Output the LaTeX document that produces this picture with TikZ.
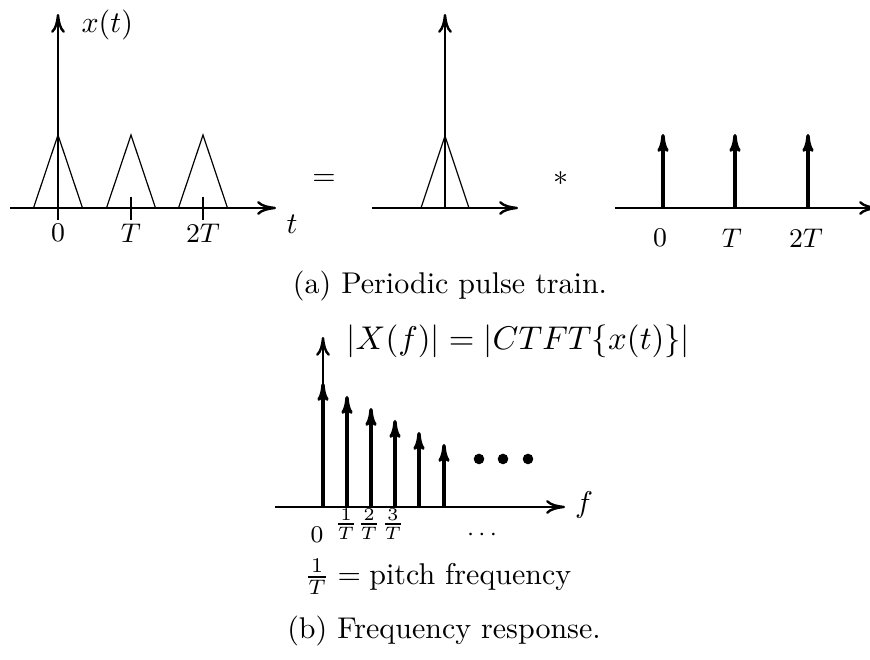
\documentclass[tikz,border=0pt]{standalone}
\usetikzlibrary{arrows.meta}
\begin{document}
\begin{tikzpicture}[x=0.3333pt,y=-0.3333pt,
  axis/.style={line width=0.8pt,-{To[length=6.3pt,width=4.6pt]}},
  impulse/.style={line width=1.1pt,-{To[length=6pt,width=3.8pt]}},
  tri/.style={line width=0.4pt},
  tickmark/.style={line width=0.8pt},
  lbl/.style={font=\fontsize{9}{10.8}\selectfont, inner sep=0pt},
  flbl/.style={font=\fontsize{8.5}{10}\selectfont, inner sep=0pt},
  txt/.style={font=\fontsize{10}{12}\selectfont, inner sep=0pt}]
\useasboundingbox (0,0) rectangle (870,660);

% ---------- left panel: x(t)
\coordinate (la0) at (10,208);
\coordinate (la1) at (276,208);
\coordinate (lv0) at (58,220);
\coordinate (lv1) at (58,14);
\draw[axis] (la0) -- (la1);
\draw[axis] (lv0) -- (lv1);
\foreach \c in {58,131,203}
  \draw[tri] (\c-24.5,208) -- (\c,135) -- (\c+24.5,208);
\draw[tickmark] (131,197) -- (131,220);
\draw[tickmark] (203,197) -- (203,220);
\node[txt, anchor=west] (xt) at (81,25) {$x(t)$};
\node[txt] (tlab) at (292,224) {$t$};
\node[lbl] (l0) at (58,233) {$0$};
\node[lbl] (lT) at (131,233) {$T$};
\node[lbl] (l2T) at (203,233) {$2T$};

% ---------- equals and convolution
\node[txt, anchor=base] (eq) at (324,186) {$=$};
\node[txt, anchor=base] (conv) at (561,186) {$*$};

% ---------- middle panel: single pulse
\coordinate (ma0) at (372,208);
\coordinate (ma1) at (518,208);
\coordinate (mv0) at (445,208);
\coordinate (mv1) at (445,14);
\draw[axis] (ma0) -- (ma1);
\draw[axis] (mv0) -- (mv1);
\draw[tri] (421,208) -- (445,136) -- (469,208);

% ---------- right panel: impulse train
\coordinate (ra0) at (615,208);
\coordinate (ra1) at (878,208);
\draw[axis] (ra0) -- (ra1);
\foreach \c in {663,735,808}
  \draw[impulse] (\c,208) -- (\c,134);
\node[lbl] (r0) at (660,238) {$0$};
\node[lbl] (rT) at (732,238) {$T$};
\node[lbl] (r2T) at (806,238) {$2T$};

\node[txt] (capa) at (450,286) {(a) Periodic pulse train.};

% ---------- spectrum
\node[txt, anchor=west, font=\fontsize{10.7}{13}\selectfont] (title) at (346,341) {$|X(f)| = |CTFT\{x(t)\}|$};
\coordinate (fa0) at (275,507);
\coordinate (fa1) at (565,507);
\coordinate (fv0) at (323,507);
\coordinate (fv1) at (323,337);
\draw[axis] (fa0) -- (fa1);
\draw[axis] (fv0) -- (fv1);
\draw[impulse] (323,507) -- (323,383);
\draw[impulse] (347,507) -- (347,396);
\draw[impulse] (371,507) -- (371,408);
\draw[impulse] (395,507) -- (395,420);
\draw[impulse] (419,507) -- (419,432);
\draw[impulse] (444,507) -- (444,444);
\foreach \c in {479,503,528} \fill (\c,459) circle[radius=5.3];
\node[txt] (flab) at (584,505) {$f$};
\node[flbl] (f0) at (317,535) {$0$};
\node[flbl] (f1) at (346,524) {$\frac{1}{T}$};
\node[flbl] (f2) at (369,524) {$\frac{2}{T}$};
\node[flbl] (f3) at (393,524) {$\frac{3}{T}$};
\node[flbl] (fdots) at (482,535) {$\cdots$};

\node[txt] (pitch) at (438,577) {$\frac{1}{T} = \mbox{pitch frequency}$};
\node[txt] (capb) at (444,631) {(b) Frequency response.};
\end{tikzpicture}
\end{document}
